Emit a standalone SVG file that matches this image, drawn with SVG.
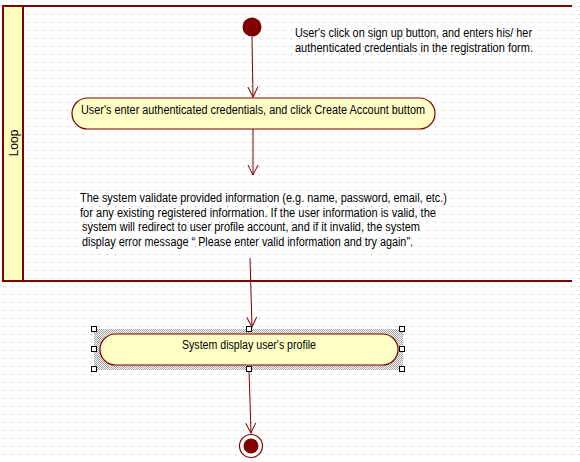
<svg xmlns="http://www.w3.org/2000/svg" width="580" height="462" viewBox="0 0 580 462">
<style>
.t{font-family:"Liberation Sans",Arial,sans-serif;font-size:12px;fill:#000;}
.ln{stroke:#800000;stroke-width:1;fill:none;}
.act{fill:#ffffc6;stroke:#800000;stroke-width:1.2;}
.h{fill:#fff;stroke:#000;stroke-width:1;}
</style>
<defs>
<pattern id="grid" patternUnits="userSpaceOnUse" x="0" y="0" width="8" height="8">
<rect x="3" y="6" width="1" height="1" fill="#b0b0b0"/>
</pattern>
<pattern id="hatch" patternUnits="userSpaceOnUse" x="0" y="0" width="2" height="2">
<rect width="2" height="2" fill="#ffffff"/>
<rect x="0" y="0" width="1" height="1" fill="#a0a0a0"/>
<rect x="1" y="1" width="1" height="1" fill="#a0a0a0"/>
</pattern>
<marker id="arr" viewBox="0 0 12 12" refX="11" refY="6" markerWidth="12" markerHeight="12" markerUnits="userSpaceOnUse" orient="auto">
<path d="M1,1 L11,6 L1,11" fill="none" stroke="#800000" stroke-width="1"/>
</marker>
</defs>
<rect width="580" height="462" fill="#fff"/>
<rect width="580" height="462" fill="url(#grid)"/>
<g id="loop">
<rect x="3" y="6" width="20" height="275" fill="#ffffc0"/>
<line x1="2" y1="6" x2="572" y2="6" stroke="#800000" stroke-width="2"/>
<line x1="2" y1="281" x2="572" y2="281" stroke="#800000" stroke-width="2"/>
<line x1="3" y1="5" x2="3" y2="282" stroke="#800000" stroke-width="2"/>
<line x1="23" y1="5" x2="23" y2="282" stroke="#800000" stroke-width="2"/>
<text class="t" transform="translate(18,143) rotate(-90)" text-anchor="middle">Loop</text>
</g>
<g id="connectors">
<line class="ln" x1="252" y1="37" x2="253" y2="97" marker-end="url(#arr)"/>
<line class="ln" x1="253" y1="129" x2="253" y2="175" marker-end="url(#arr)"/>
<line class="ln" x1="250" y1="258" x2="252" y2="327" marker-end="url(#arr)"/>
<line class="ln" x1="249" y1="370" x2="251" y2="433" marker-end="url(#arr)"/>
</g>
<g id="start">
<circle cx="252" cy="27" r="9.5" fill="#800000"/>
</g>
<g id="note1">
<text class="t" x="295" y="37" textLength="237" lengthAdjust="spacingAndGlyphs">User's click on sign up button, and enters his/ her</text>
<text class="t" x="295" y="51.5" textLength="238" lengthAdjust="spacingAndGlyphs">authenticated credentials in the registration form.</text>
</g>
<g id="act1">
<rect class="act" x="72" y="98" width="363" height="31" rx="15.5" ry="15.5"/>
<text class="t" x="81" y="114" textLength="344" lengthAdjust="spacingAndGlyphs">User's enter authenticated credentials, and click Create Account buttom</text>
</g>
<g id="note2">
<text class="t" x="80" y="202" textLength="367" lengthAdjust="spacingAndGlyphs">The system validate provided information (e.g. name, password, email, etc.)</text>
<text class="t" x="80" y="216.5" textLength="356" lengthAdjust="spacingAndGlyphs">for any existing registered information. If the user information is valid, the</text>
<text class="t" x="82" y="231" textLength="338" lengthAdjust="spacingAndGlyphs">system will redirect to user profile account, and if it invalid, the system</text>
<text class="t" x="82" y="245.5" textLength="331" lengthAdjust="spacingAndGlyphs">display error message “ Please enter valid information and try again”.</text>
</g>
<g id="act2">
<rect x="94" y="329" width="309" height="41" fill="url(#hatch)"/>
<rect class="act" x="100" y="334" width="298" height="31" rx="15.5" ry="15.5"/>
<text class="t" x="182" y="349" textLength="134" lengthAdjust="spacingAndGlyphs">System display user's profile</text>
<rect class="h" x="91.5" y="326.5" width="5" height="5"/>
<rect class="h" x="246.5" y="326.5" width="5" height="5"/>
<rect class="h" x="399.5" y="326.5" width="5" height="5"/>
<rect class="h" x="91.5" y="346.5" width="5" height="5"/>
<rect class="h" x="399.5" y="346.5" width="5" height="5"/>
<rect class="h" x="91.5" y="366.5" width="5" height="5"/>
<rect class="h" x="246.5" y="366.5" width="5" height="5"/>
<rect class="h" x="399.5" y="366.5" width="5" height="5"/>
</g>
<g id="end">
<circle cx="251" cy="446" r="11.5" fill="#fff" stroke="#800000" stroke-width="1.2"/>
<circle cx="251" cy="446" r="7.5" fill="#800000"/>
</g>
</svg>
